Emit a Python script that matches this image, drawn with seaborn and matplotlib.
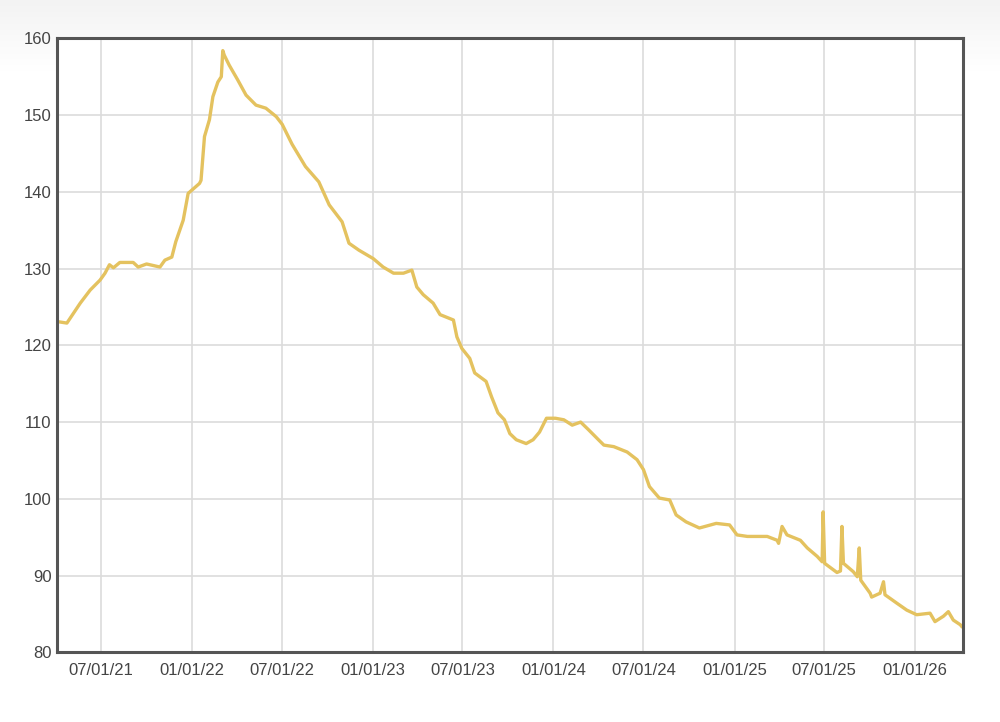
import matplotlib
matplotlib.use("Agg")
import matplotlib.pyplot as plt
import matplotlib.dates as mdates
import seaborn as sns
import pandas as pd
import numpy as np

# values
dates = [
    "2021-04-03", "2021-04-23", "2021-05-20", "2021-06-09", "2021-06-29",
    "2021-07-09", "2021-07-18", "2021-07-26", "2021-08-08", "2021-09-04",
    "2021-09-14", "2021-10-01", "2021-10-28", "2021-11-07", "2021-11-21",
    "2021-11-29", "2021-12-14", "2021-12-24", "2022-01-16", "2022-01-19",
    "2022-01-26", "2022-02-05", "2022-02-12", "2022-02-22", "2022-03-01",
    "2022-03-04", "2022-03-07", "2022-03-17", "2022-04-03", "2022-04-20",
    "2022-05-10", "2022-05-30", "2022-06-20", "2022-07-02", "2022-07-22",
    "2022-08-18", "2022-09-14", "2022-10-05", "2022-10-31", "2022-11-14",
    "2022-12-04", "2023-01-02", "2023-01-22", "2023-02-12", "2023-03-04",
    "2023-03-21", "2023-03-31", "2023-04-13", "2023-05-03", "2023-05-17",
    "2023-06-13", "2023-06-20", "2023-06-30", "2023-07-16", "2023-07-26",
    "2023-08-18", "2023-08-29", "2023-09-11", "2023-09-24", "2023-10-05",
    "2023-10-18", "2023-11-07", "2023-11-21", "2023-12-04", "2023-12-18",
    "2024-01-05", "2024-01-22", "2024-02-08", "2024-02-25", "2024-03-12",
    "2024-04-01", "2024-04-12", "2024-05-02", "2024-05-29", "2024-06-18",
    "2024-07-01", "2024-07-13", "2024-08-02", "2024-08-23", "2024-09-05",
    "2024-09-25", "2024-10-22", "2024-11-25", "2024-12-22", "2025-01-06",
    "2025-01-27", "2025-03-08", "2025-03-28", "2025-03-31", "2025-04-07",
    "2025-04-17", "2025-05-14", "2025-05-28", "2025-06-17", "2025-06-27",
    "2025-06-29", "2025-07-02", "2025-07-27", "2025-08-03", "2025-08-06",
    "2025-08-09", "2025-08-29", "2025-09-06", "2025-09-10", "2025-09-13",
    "2025-10-02", "2025-10-05", "2025-10-22", "2025-10-29", "2025-11-01",
    "2025-11-25", "2025-12-15", "2026-01-04", "2026-01-31", "2026-02-10",
    "2026-02-27", "2026-03-09", "2026-03-19", "2026-04-02", "2026-04-06",
]
values = [
    123.1, 122.9, 125.5, 127.2, 128.5,
    129.4, 130.5, 130.1, 130.8, 130.8,
    130.2, 130.6, 130.2, 131.1, 131.5,
    133.5, 136.3, 139.8, 141.1, 141.5,
    147.2, 149.4, 152.4, 154.3, 155.0,
    158.4, 157.8, 156.5, 154.6, 152.6,
    151.3, 150.9, 149.8, 148.8, 146.2,
    143.3, 141.3, 138.3, 136.1, 133.3,
    132.4, 131.3, 130.2, 129.4, 129.4,
    129.8, 127.6, 126.6, 125.5, 124.0,
    123.3, 121.1, 119.6, 118.3, 116.4,
    115.3, 113.3, 111.2, 110.3, 108.5,
    107.7, 107.2, 107.7, 108.7, 110.5,
    110.5, 110.3, 109.6, 110.0, 109.0,
    107.7, 107.0, 106.8, 106.1, 105.1,
    103.8, 101.6, 100.1, 99.85, 97.9,
    97.0, 96.2, 96.8, 96.6, 95.3,
    95.1, 95.1, 94.6, 94.2, 96.4,
    95.3, 94.6, 93.6, 92.5, 91.8,
    98.3, 91.6, 90.4, 90.6, 96.4,
    91.6, 90.5, 89.85, 93.6, 89.4,
    87.7, 87.2, 87.7, 89.2, 87.5,
    86.4, 85.5, 84.9, 85.1, 84.0,
    84.7, 85.3, 84.2, 83.6, 83.3,
]
y_ticks = [80, 90, 100, 110, 120, 130, 140, 150, 160]

df = pd.DataFrame({"date": pd.to_datetime(dates), "value": values})

sns.set_theme(style="whitegrid")
plt.rcParams["font.family"] = ["Liberation Sans", "DejaVu Sans"]

fig = plt.figure(figsize=(10, 7.22), dpi=100)
fig.patch.set_facecolor("white")

# faint grey band fading out at the top of the picture
bg = fig.add_axes([0, 0.9, 1, 0.1], zorder=-10)
grad = np.linspace(1.0, 0.0, 64).reshape(-1, 1)
bg.imshow(grad, aspect="auto", cmap=matplotlib.colors.LinearSegmentedColormap.from_list(
    "g", ["#ffffff", "#f3f3f3"]), extent=[0, 1, 0, 1])
bg.axis("off")

ax = fig.add_axes([0.057, 0.0965, 0.9057, 0.8504])
ax.set_facecolor("white")

sns.lineplot(data=df, x="date", y="value", ax=ax, color="#E4C25F",
             linewidth=2.4, solid_joinstyle="round", solid_capstyle="round")

ax.set_xlim(pd.Timestamp("2021-04-03"), pd.Timestamp("2026-04-07"))
ax.set_ylim(80, 160)
ax.set_yticks(y_ticks)
ax.xaxis.set_major_locator(mdates.MonthLocator(bymonth=[1, 7], bymonthday=1))
ax.xaxis.set_major_formatter(mdates.DateFormatter("%m/%d/%y"))

ax.grid(True, color="#dcdcdc", linewidth=1.2)
ax.set_xlabel("")
ax.set_ylabel("")
ax.tick_params(axis="both", length=0, labelsize=12, labelcolor="#444444")
ax.tick_params(axis="y", pad=4)
ax.tick_params(axis="x", pad=8)
for sp in ax.spines.values():
    sp.set_visible(True)
    sp.set_color("#555555")
    sp.set_linewidth(2.2)

fig.savefig("out.png", dpi=100)
